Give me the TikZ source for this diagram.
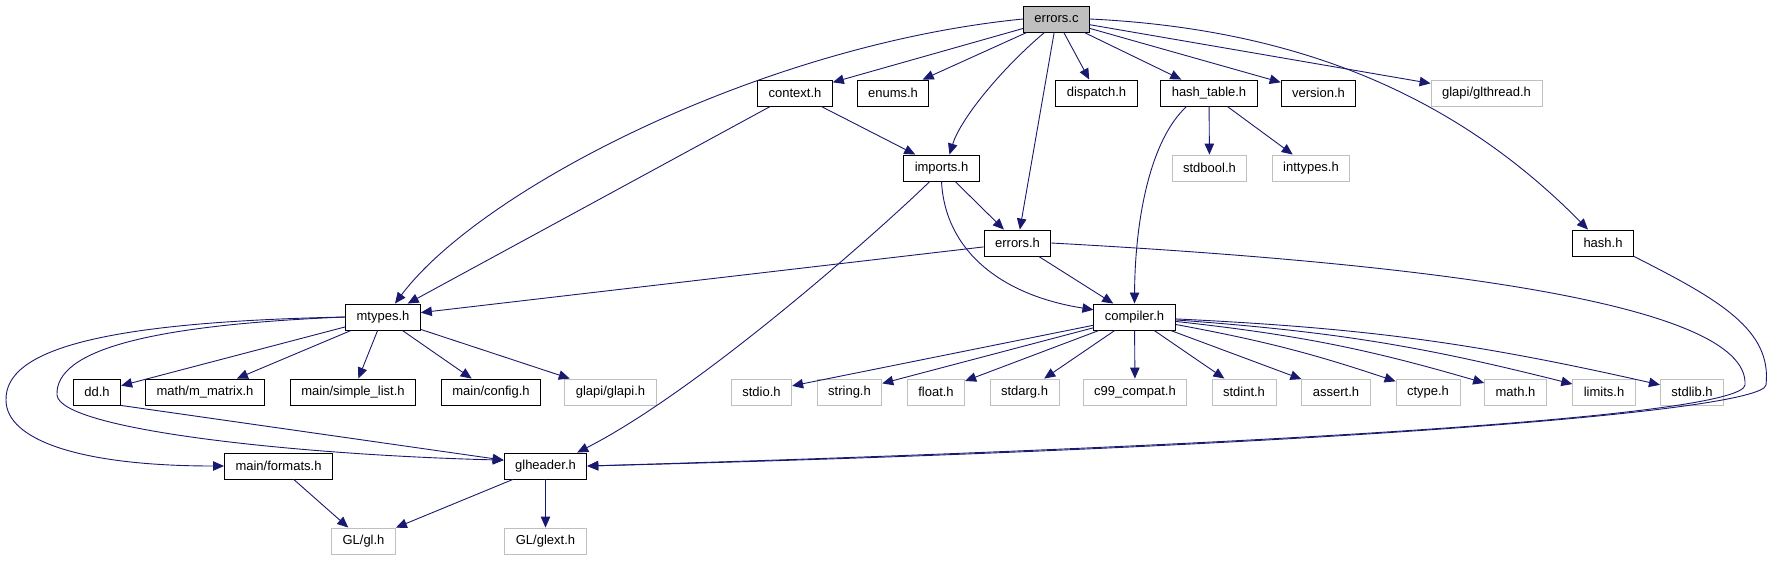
\documentclass[tikz,border=0pt]{standalone}
\usepackage{fontspec}
\setmainfont{Liberation Sans}
\usetikzlibrary{arrows.meta}

\definecolor{edgeblue}{HTML}{191970}
\definecolor{boxgray}{HTML}{BFBFBF}

\begin{document}
\begin{tikzpicture}[
  x=1pt, y=-1pt,
  font=\fontsize{13}{15}\selectfont,
  file/.style={rectangle, draw=black, line width=0.9pt, minimum height=26pt, inner xsep=11pt, inner ysep=0pt, fill=white},
  sysfile/.style={file, draw=boxgray, line width=0.9pt},
  srcfile/.style={file, fill=boxgray},
  dep/.style={draw=edgeblue, line width=0.9pt, -{Triangle[length=11pt, width=9.5pt]}},
]
\useasboundingbox (0,0) rectangle (1778,560);

% top rows
\node[srcfile] (errc) at (1056.5,19) {errors.c};
\node[file] (context) at (795,93) {context.h};
\node[file] (enums) at (893,93) {enums.h};
\node[file] (dispatch) at (1096.5,93) {dispatch.h};
\node[file] (hashtab) at (1209,93) {hash\_table.h};
\node[file] (version) at (1318.5,93) {version.h};
\node[sysfile] (glthread) at (1486.5,93) {glapi/glthread.h};
\node[file] (imports) at (941.5,168) {imports.h};
\node[sysfile] (stdbool) at (1209.5,168) {stdbool.h};
\node[sysfile] (inttypes) at (1311,168) {inttypes.h};
\node[file] (errh) at (1017.5,243) {errors.h};
\node[file] (hash) at (1603,243) {hash.h};
\node[file] (mtypes) at (383,317) {mtypes.h};
\node[file] (compiler) at (1134.5,317) {compiler.h};

% row under mtypes.h and compiler.h
\node[file] (dd) at (97,392) {dd.h};
\node[file] (mmatrix) at (205,392) {math/m\_matrix.h};
\node[file] (simplelist) at (353,392) {main/simple\_list.h};
\node[file] (config) at (491,392) {main/config.h};
\node[sysfile] (glapi) at (610.5,392) {glapi/glapi.h};
\node[sysfile] (stdio) at (761.5,392) {stdio.h};
\node[sysfile] (string) at (849.5,392) {string.h};
\node[sysfile] (float) at (936,392) {float.h};
\node[sysfile] (stdarg) at (1024.5,392) {stdarg.h};
\node[sysfile] (c99) at (1135,392) {c99\_compat.h};
\node[sysfile] (stdint) at (1244,392) {stdint.h};
\node[sysfile] (assert) at (1336,392) {assert.h};
\node[sysfile] (ctype) at (1428,392) {ctype.h};
\node[sysfile] (math) at (1515.5,392) {math.h};
\node[sysfile] (limits) at (1604,392) {limits.h};
\node[sysfile] (stdlib) at (1692,392) {stdlib.h};

% bottom rows
\node[file] (formats) at (278.5,466) {main/formats.h};
\node[file] (glheader) at (545.5,466) {glheader.h};
\node[sysfile] (gl) at (363.5,541) {GL/gl.h};
\node[sysfile] (glext) at (545.5,541) {GL/glext.h};

% errors.c
\draw[dep] (errc.west) .. controls (760,45) and (480,190) .. ([xshift=12pt]mtypes.north);
\draw[dep] (errc) -- (context);
\draw[dep] (errc) -- (enums);
\draw[dep] ([xshift=-12pt]errc.south) .. controls (1000,70) and (960,120) .. ([xshift=8pt]imports.north);
\draw[dep] (errc) -- (errh);
\draw[dep] (errc) -- (dispatch);
\draw[dep] (errc) -- (hashtab);
\draw[dep] (errc) -- (version);
\draw[dep] (errc) -- (glthread);
\draw[dep] (errc.east) .. controls (1320,30) and (1470,110) .. ([xshift=-15pt]hash.north);

% context.h and imports.h
\draw[dep] (context) -- (mtypes);
\draw[dep] (context) -- (imports);
\draw[dep] (imports) -- (errh);
\draw[dep] (imports.south) .. controls (945,250) and (1000,295) .. (compiler.170);
\draw[dep] (imports.229) .. controls (880,230) and (700,390) .. (glheader.23);

% errors.h and hash.h
\draw[dep] (errh) -- (mtypes);
\draw[dep] (errh) -- (compiler);
\draw[dep] (errh.east) .. controls (1400,262) and (1750,300) .. (1745,385)
  .. controls (1742,415) and (1300,445) .. (glheader.east);
\draw[dep] (hash.south east) .. controls (1720,300) and (1772,330) .. (1766,385)
  .. controls (1762,412) and (1300,448) .. (glheader.east);

% hash_table.h
\draw[dep] (hashtab) -- (stdbool);
\draw[dep] (hashtab) -- (inttypes);
\draw[dep] (hashtab.211) .. controls (1150,140) and (1135,220) .. (compiler.north);

% mtypes.h
\draw[dep] (mtypes) -- (dd);
\draw[dep] (mtypes) -- (mmatrix);
\draw[dep] (mtypes) -- (simplelist);
\draw[dep] (mtypes) -- (config);
\draw[dep] (mtypes) -- (glapi);
\draw[dep] (mtypes.west) .. controls (100,322) and (5,350) .. (6,400)
  .. controls (6,440) and (80,466) .. (formats.west);
\draw[dep] (mtypes.west) .. controls (150,325) and (55,350) .. (57,395)
  .. controls (60,430) and (300,455) .. (glheader.172);
\draw[dep] (dd.south east) -- (glheader.172);

% bottom
\draw[dep] (formats) -- (gl);
\draw[dep] (glheader) -- (gl);
\draw[dep] (glheader) -- (glext);

% compiler.h
\draw[dep] (compiler) -- (stdio);
\draw[dep] (compiler) -- (string);
\draw[dep] (compiler) -- (float);
\draw[dep] (compiler) -- (stdarg);
\draw[dep] (compiler) -- (c99);
\draw[dep] (compiler) -- (stdint);
\draw[dep] (compiler) -- (assert);
\draw[dep] (compiler) to[bend left=4] (ctype);
\draw[dep] (compiler) to[bend left=5] (math);
\draw[dep] (compiler) to[bend left=5] (limits);
\draw[dep] (compiler) to[bend left=5] (stdlib);
\end{tikzpicture}
\end{document}
